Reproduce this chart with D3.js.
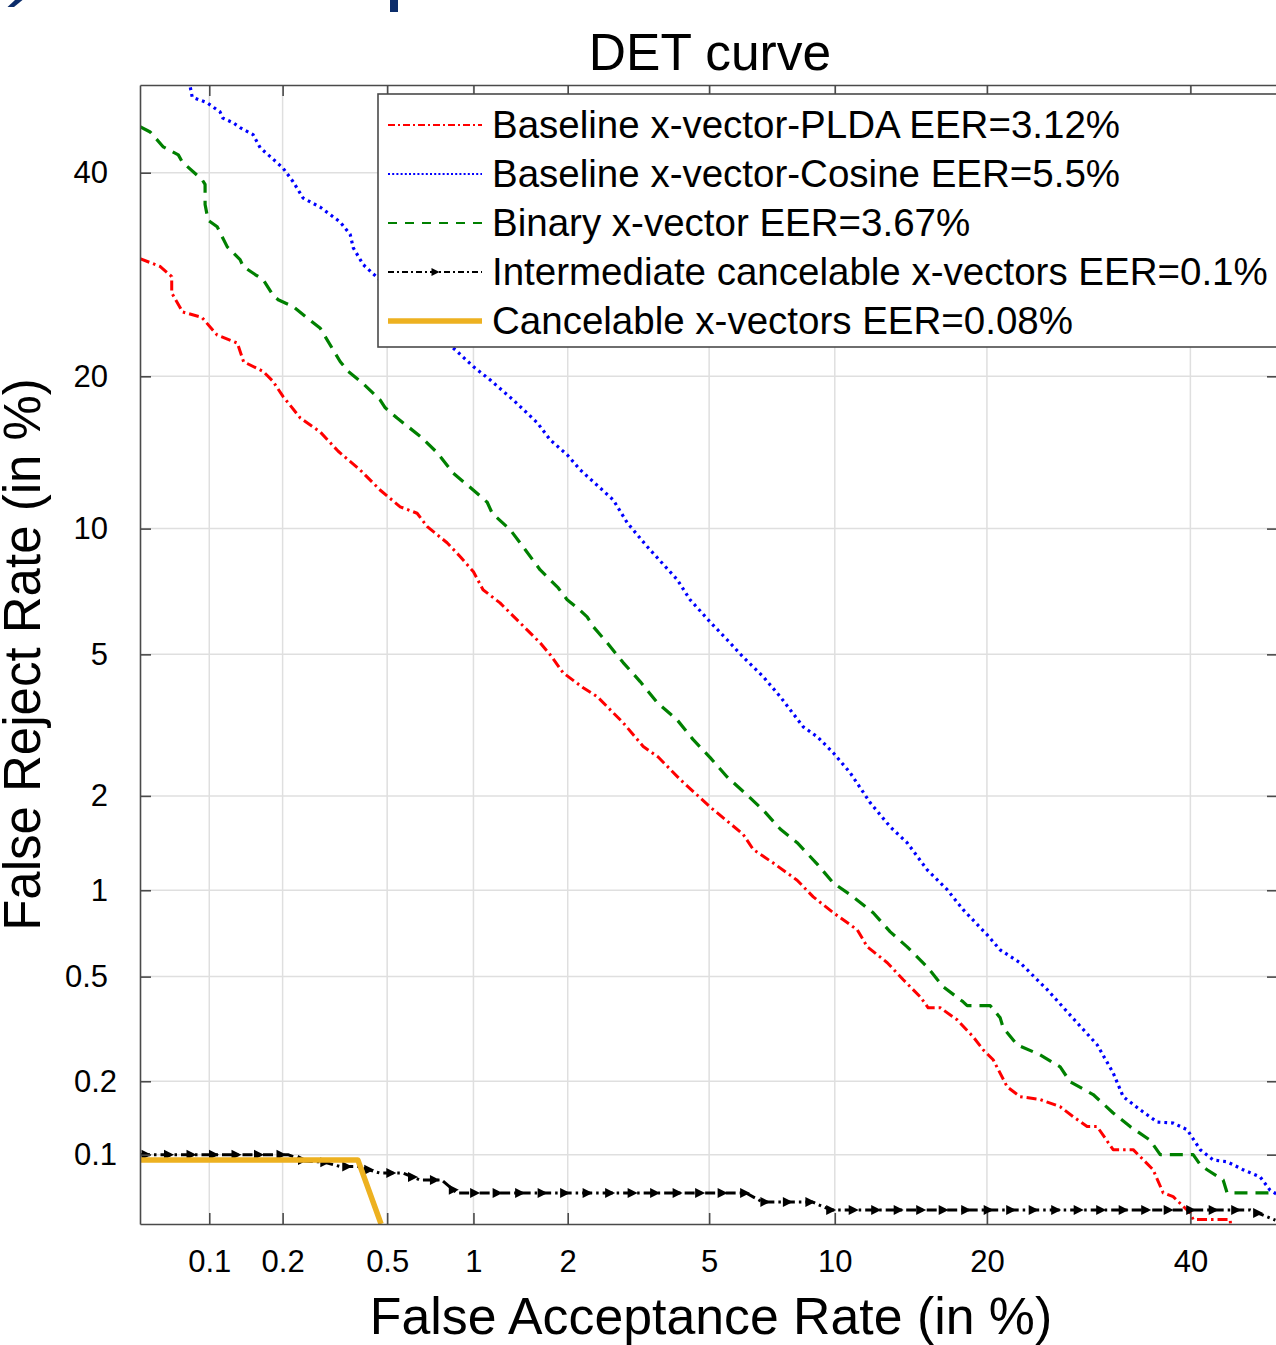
<!DOCTYPE html>
<html>
<head>
<meta charset="utf-8">
<script src="https://cdn.jsdelivr.net/npm/d3@7"></script>
<style>
  html, body { margin: 0; padding: 0; background: #fff; }
  svg text { font-family: "Liberation Sans", Arial, Helvetica, sans-serif; fill: #000; }
</style>
</head>
<body>
<svg id="chart" width="1276" height="1345"></svg>
<script>
// ---- Axis ticks (values in %) ----
const xTickValues = [0.1, 0.2, 0.5, 1, 2, 5, 10, 20, 40];
const xTickLabels = ["0.1", "0.2", "0.5", "1", "2", "5", "10", "20", "40"];
const yTickValues = [0.1, 0.2, 0.5, 1, 2, 5, 10, 20, 40];
const yTickLabels = ["0.1", "0.2", "0.5", "1", "2", "5", "10", "20", "40"];
const axisLimits = [0.05, 50];

// ---- DET operating points: [false acceptance %, false reject %] ----
const pldaCurve = [
  [0.05,30.8],[0.0615,30.0],[0.069,29.0],[0.069,27.4],[0.077,25.6],[0.093,25.1],[0.108,23.5],
  [0.131,22.8],[0.139,21.2],[0.167,20.4],[0.183,19.6],[0.201,18.4],[0.235,16.8],[0.281,15.8],
  [0.329,14.5],[0.398,13.3],[0.471,12.1],[0.557,11.15],[0.64,10.8],[0.695,10.1],[0.814,9.3],
  [0.903,8.65],[1.0,7.98],[1.076,7.24],[1.224,6.73],[1.645,5.35],[1.766,4.99],[1.938,4.47],
  [2.227,4.08],[2.452,3.86],[2.915,3.27],[3.322,2.80],[3.655,2.61],[4.196,2.24],[5.03,1.85],
  [6.10,1.52],[6.46,1.36],[7.22,1.23],[8.22,1.08],[8.95,0.95],[9.92,0.84],[11.19,0.733],
  [11.75,0.639],[12.93,0.561],[13.93,0.487],[15.04,0.422],[15.59,0.384],[16.44,0.384],
  [17.68,0.346],[18.91,0.298],[19.69,0.266],[20.51,0.243],[21.68,0.19],[22.79,0.1735],
  [24.58,0.169],[26.44,0.158],[27.68,0.144],[29.05,0.131],[30.05,0.131],[31.68,0.105],
  [33.77,0.105],[35.9,0.0863],[36.99,0.0686],[38.09,0.066],[39.97,0.056],[40.31,0.0523],
  [44.5,0.0523],[44.6,0.046]
];
const cosineCurve = [
  [0.082,50.5],[0.0846,48.6],[0.098,47.95],[0.111,46.9],[0.114,46.2],[0.126,45.65],[0.1345,45.1],
  [0.152,44.3],[0.1625,42.8],[0.1785,41.8],[0.201,40.5],[0.22,39.0],[0.241,37.2],[0.281,36.2],
  [0.335,34.6],[0.365,33.3],[0.375,31.9],[0.408,30.2],[0.46,28.9],[0.63,25.3],[0.869,22.2],
  [0.999,20.8],[1.137,19.7],[1.35,18.15],[1.61,16.46],[1.766,15.27],[1.992,14.27],[2.182,13.31],
  [2.73,11.53],[2.994,10.3],[3.41,9.11],[4.118,7.65],[4.457,6.85],[5.031,6.04],[5.561,5.45],
  [6.098,4.92],[6.83,4.37],[7.502,3.86],[8.491,3.185],[9.138,2.986],[9.919,2.687],[10.8,2.347],
  [11.92,1.906],[13.11,1.605],[14.18,1.429],[15.52,1.169],[16.94,1.004],[18.13,0.86],
  [20.02,0.704],[21.09,0.623],[22.79,0.561],[25.23,0.448],[28.07,0.337],[30.05,0.278],
  [31.68,0.216],[32.72,0.1735],[34.51,0.1536],[36.34,0.1368],[38.09,0.1355],[39.64,0.1272],
  [41.1,0.105],[42.56,0.095],[44.15,0.0933],[45.98,0.0863],[47.94,0.0804],[49.09,0.0704],
  [50.0,0.0672]
];
const binaryCurve = [
  [0.05,45.2],[0.0555,44.6],[0.0634,42.9],[0.0737,42.0],[0.0767,41.2],[0.0934,39.2],[0.096,38.7],
  [0.096,36.5],[0.0989,34.8],[0.108,34.1],[0.119,32.0],[0.1345,30.7],[0.1385,30.0],[0.155,29.2],
  [0.167,28.7],[0.183,27.2],[0.192,26.75],[0.22,26.1],[0.281,24.1],[0.335,21.2],[0.359,20.4],
  [0.404,19.5],[0.471,18.15],[0.492,17.55],[0.543,16.8],[0.657,15.5],[0.753,14.4],[0.855,13.1],
  [1.03,11.9],[1.111,11.4],[1.154,10.8],[1.321,9.94],[1.476,8.97],[1.645,8.06],[1.871,7.31],
  [1.992,6.85],[2.137,6.55],[2.288,6.22],[2.386,5.88],[2.622,5.35],[2.915,4.76],[3.257,4.24],
  [3.631,3.72],[4.118,3.33],[4.542,2.93],[5.031,2.6],[5.561,2.28],[6.242,2.01],[6.83,1.81],
  [7.502,1.58],[8.222,1.43],[9.138,1.22],[9.919,1.058],[10.97,0.95],[12.09,0.839],[13.11,0.721],
  [14.18,0.639],[15.52,0.542],[16.65,0.459],[18.13,0.404],[18.44,0.391],[20.27,0.391],
  [21.09,0.352],[21.34,0.323],[22.53,0.278],[24.58,0.254],[26.44,0.228],[27.39,0.199],
  [29.65,0.177],[31.68,0.149],[33.45,0.131],[35.58,0.115],[36.67,0.1],[40.31,0.1],[41.1,0.0907],
  [41.88,0.0863],[43.7,0.078],[44.15,0.0686],[50,0.0686]
];
const intermediateCurve = [
  [0.05,0.1],[0.21,0.1],[0.245,0.094],[0.29,0.093],[0.335,0.089],[0.39,0.089],[0.47,0.0835],
  [0.57,0.0835],[0.655,0.078],[0.78,0.078],[0.88,0.0685],[6.2,0.0685],[6.8,0.0626],[8.9,0.0626],
  [9.8,0.0577],[46.8,0.0577],[49.7,0.052]
];
const cancelableCurve = [
  [0.05,0.095],[0.39,0.095],[0.475,0.05]
];

const seriesNames = [
  "Baseline x-vector-PLDA EER=3.12%",
  "Baseline x-vector-Cosine EER=5.5%",
  "Binary x-vector EER=3.67%",
  "Intermediate cancelable x-vectors EER=0.1%",
  "Cancelable x-vectors EER=0.08%"
];

// ---- Normal deviate (inverse standard normal CDF, Acklam's approximation) ----
function probit(p) {
  const a = [-3.969683028665376e+01, 2.209460984245205e+02, -2.759285104469687e+02,
             1.383577518672690e+02, -3.066479806614716e+01, 2.506628277459239e+00];
  const b = [-5.447609879822406e+01, 1.615858368580409e+02, -1.556989798598866e+02,
             6.680131188771972e+01, -1.328068155288572e+01];
  const c = [-7.784894002430293e-03, -3.223964580411365e-01, -2.400758277161838e+00,
             -2.549732539343734e+00, 4.374664141464968e+00, 2.938163982698783e+00];
  const d = [7.784695709041462e-03, 3.224671290700398e-01, 2.445134137142996e+00,
             3.754408661907416e+00];
  const pl = 0.02425, ph = 1 - pl;
  let q, r;
  if (p < pl) {
    q = Math.sqrt(-2 * Math.log(p));
    return (((((c[0]*q+c[1])*q+c[2])*q+c[3])*q+c[4])*q+c[5]) / ((((d[0]*q+d[1])*q+d[2])*q+d[3])*q+1);
  }
  if (p <= ph) {
    q = p - 0.5; r = q * q;
    return (((((a[0]*r+a[1])*r+a[2])*r+a[3])*r+a[4])*r+a[5])*q / (((((b[0]*r+b[1])*r+b[2])*r+b[3])*r+b[4])*r+1);
  }
  q = Math.sqrt(-2 * Math.log(1 - p));
  return -(((((c[0]*q+c[1])*q+c[2])*q+c[3])*q+c[4])*q+c[5]) / ((((d[0]*q+d[1])*q+d[2])*q+d[3])*q+1);
}
const dev = pct => probit(pct / 100);

// ---- Layout ----
const plot = { left: 140, right: 1278, top: 85, bottom: 1224 };
const xs = d3.scaleLinear().domain(axisLimits.map(dev)).range([plot.left, plot.right]);
const ys = d3.scaleLinear().domain(axisLimits.map(dev)).range([plot.bottom, plot.top]);
const X = v => xs(dev(v));
const Y = v => ys(dev(v));

const axisColor = "#4a4a4a";
const textColor = "#262626";
const gridColor = "#dfdfdf";

const svg = d3.select("#chart");
svg.append("rect").attr("width", 1276).attr("height", 1345).attr("fill", "#fff");

// fragments of the surrounding slide along the top edge
svg.append("polygon").attr("points", "15,0 22.5,0 14,7 7.5,7").attr("fill", "#0c2d6b");
svg.append("rect").attr("x", 390).attr("y", 0).attr("width", 8).attr("height", 12).attr("fill", "#0c2d6b");

svg.append("defs").append("clipPath").attr("id", "plotClip")
  .append("rect").attr("x", plot.left).attr("y", plot.top)
  .attr("width", plot.right - plot.left).attr("height", plot.bottom - plot.top);

// grid
const grid = svg.append("g");
grid.selectAll(".gx").data(xTickValues).join("line")
  .attr("x1", d => X(d)).attr("x2", d => X(d))
  .attr("y1", plot.top).attr("y2", plot.bottom)
  .attr("stroke", gridColor).attr("stroke-width", 1.5);
grid.selectAll(".gy").data(yTickValues).join("line")
  .attr("x1", plot.left).attr("x2", plot.right)
  .attr("y1", d => Y(d)).attr("y2", d => Y(d))
  .attr("stroke", gridColor).attr("stroke-width", 1.5);

// curves
const line = d3.line().x(d => X(d[0])).y(d => Y(d[1]));
const series = [
  { data: pldaCurve,         color: "#ff0000", width: 3,   dash: "10,4,2.5,4" },
  { data: cosineCurve,       color: "#0000ff", width: 3.2, dash: "2.8,4" },
  { data: binaryCurve,       color: "#008000", width: 3.2, dash: "13,8" },
  { data: intermediateCurve, color: "#000000", width: 3,   dash: "10,4,2.5,4", marker: true },
  { data: cancelableCurve,   color: "#edb120", width: 5.5, dash: null }
];

const dataLayer = svg.append("g").attr("clip-path", "url(#plotClip)");
const triangle = "M-4.5,-5 L5.5,0 L-4.5,5 Z";

series.forEach(s => {
  const path = dataLayer.append("path")
    .datum(s.data)
    .attr("d", line)
    .attr("fill", "none")
    .attr("stroke", s.color)
    .attr("stroke-width", s.width)
    .attr("stroke-linejoin", "round")
    .attr("stroke-dasharray", s.dash);
  if (s.marker) {
    const node = path.node();
    const total = node.getTotalLength();
    const pts = d3.range(6, total, 22.5).map(l => node.getPointAtLength(l));
    dataLayer.selectAll(null).data(pts).join("path")
      .attr("d", triangle)
      .attr("transform", p => `translate(${p.x},${p.y})`)
      .attr("fill", s.color);
  }
});

// axes (ticks point inward)
const xTickDev = xTickValues.map(dev);
const yTickDev = yTickValues.map(dev);

const styleAxis = g => {
  g.select(".domain").attr("stroke", axisColor).attr("stroke-width", 1.6);
  g.selectAll(".tick line").attr("stroke", axisColor).attr("stroke-width", 1.6);
  g.selectAll(".tick text").attr("fill", textColor).style("font-size", "31px");
};

svg.append("g").attr("transform", `translate(0,${plot.bottom})`)
  .call(d3.axisBottom(xs).tickValues(xTickDev).tickFormat((d, i) => xTickLabels[i])
    .tickSizeInner(-11).tickSizeOuter(0).tickPadding(26))
  .call(styleAxis);
svg.append("g").attr("transform", `translate(0,${plot.top})`)
  .call(d3.axisTop(xs).tickValues(xTickDev).tickFormat("")
    .tickSizeInner(-11).tickSizeOuter(0))
  .call(styleAxis);
const yAxisG = svg.append("g").attr("transform", `translate(${plot.left},0)`)
  .call(d3.axisLeft(ys).tickValues(yTickDev).tickFormat((d, i) => yTickLabels[i])
    .tickSizeInner(-11).tickSizeOuter(0).tickPadding(32))
  .call(styleAxis);
// the two lowest labels sit a little closer to the axis
yAxisG.selectAll(".tick text").attr("dx", (d, i) => (yTickValues[i] < 0.5 ? 9 : 0));
svg.append("g").attr("transform", `translate(${plot.right},0)`)
  .call(d3.axisRight(ys).tickValues(yTickDev).tickFormat("")
    .tickSizeInner(-11).tickSizeOuter(0))
  .call(styleAxis);

// title and axis labels
svg.append("text").attr("x", 710).attr("y", 70)
  .attr("text-anchor", "middle").style("font-size", "51.5px").text("DET curve");
svg.append("text").attr("x", 711).attr("y", 1334)
  .attr("text-anchor", "middle").style("font-size", "51.8px").text("False Acceptance Rate (in %)");
svg.append("text")
  .attr("transform", `translate(40,${(plot.top + plot.bottom) / 2}) rotate(-90)`)
  .attr("text-anchor", "middle").style("font-size", "51px").text("False Reject Rate (in %)");

// legend
const legend = svg.append("g");
legend.append("rect").attr("x", 378).attr("y", 94).attr("width", 940).attr("height", 253)
  .attr("fill", "#fff").attr("stroke", axisColor).attr("stroke-width", 1.6);
const rowY = i => 125 + i * 49;
const legendDash = ["7,3,2,3", "2,2.2", "9,8", "6,3,2,3", null];
series.forEach((s, i) => {
  legend.append("line")
    .attr("x1", 388).attr("x2", 482).attr("y1", rowY(i)).attr("y2", rowY(i))
    .attr("stroke", s.color)
    .attr("stroke-width", s.marker ? 2 : (i === 4 ? 5.5 : 2.2))
    .attr("stroke-dasharray", legendDash[i]);
  if (s.marker) {
    legend.append("path").attr("d", "M-3.5,-4 L4.5,0 L-3.5,4 Z")
      .attr("transform", `translate(435,${rowY(i)})`).attr("fill", s.color);
  }
  legend.append("text").attr("x", 492).attr("y", rowY(i) + 13)
    .style("font-size", "38.5px").text(seriesNames[i]);
});
</script>
</body>
</html>
